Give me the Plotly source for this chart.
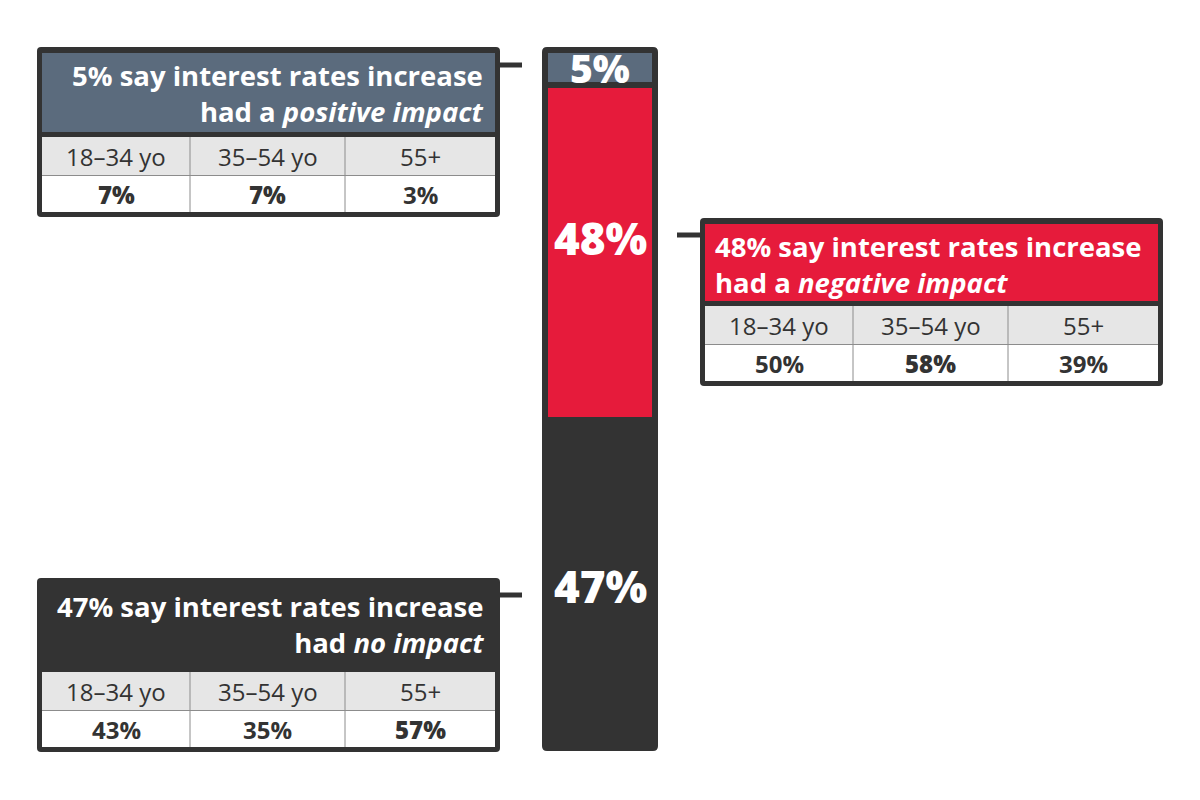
import plotly.graph_objects as go

# ---------------- data ----------------
segments = ["Positive impact", "Negative impact", "No impact"]
shares = [5, 48, 47]
age_groups = ["18–34 yo", "35–54 yo", "55+"]
positive_by_age = [7, 7, 3]
negative_by_age = [50, 58, 39]
none_by_age = [43, 35, 57]
headline_prefix = ["had a ", "had a ", "had "]
impact_words = ["positive impact", "negative impact", "no impact"]

# ---------------- styles ----------------
SLATE = "#5b6b7d"
RED = "#e61b3b"
DARK = "#333333"
GRAY = "#e6e6e6"
LINE = "#8c8c8c"
FONT = "Open Sans"
seg_colors = [SLATE, RED, DARK]
by_age = [positive_by_age, negative_by_age, none_by_age]

fig = go.Figure()

# stacked single bar
for i, seg in enumerate(segments):
    fig.add_trace(go.Bar(
        x=["share"], y=[shares[i]], name=seg,
        marker=dict(color=seg_colors[i], line=dict(color=DARK, width=6)),
        xaxis="x2", yaxis="y2", hoverinfo="skip", showlegend=False,
    ))

shapes = []
annotations = []


def rrect(x0, y0, x1, y1, r):
    return (f"M{x0+r},{y0} L{x1-r},{y0} Q{x1},{y0} {x1},{y0+r} L{x1},{y1-r} "
            f"Q{x1},{y1} {x1-r},{y1} L{x0+r},{y1} Q{x0},{y1} {x0},{y1-r} "
            f"L{x0},{y0+r} Q{x0},{y0} {x0+r},{y0} Z")


# bar frame
shapes.append(dict(type="path", path=rrect(542, 47, 658, 751, 5), xref="x", yref="y",
                   fillcolor=DARK, line=dict(width=0), layer="below"))

# bar labels
label_sizes = [39, 44, 44]
label_shift = [0, 14, -2]
cum = 0
for i, v in enumerate(shares):
    annotations.append(dict(
        x=0, y=cum + v / 2, xref="x2", yref="y2", text=f"{v}%", showarrow=False,
        yshift=label_shift[i],
        font=dict(family=FONT, size=label_sizes[i], color="white", weight=800),
        xanchor="center", yanchor="middle"))
    cum += v

# callout boxes
boxes = [
    dict(x0=37, x1=500, y0=47, header_h=79, align="right", tx=486, cy=65, cx0=500, cx1=522),
    dict(x0=700, x1=1163, y0=218, header_h=77, align="left", tx=713, cy=235, cx0=677, cx1=700),
    dict(x0=37, x1=500, y0=578, header_h=83, align="right", tx=486, cy=595, cx0=500, cx1=522),
]
col_offsets = [0, 148, 303]

for i, b in enumerate(boxes):
    x0, x1, y0 = b["x0"], b["x1"], b["y0"]
    il, ir = x0 + 5, x1 - 5
    h_top = y0 + 6
    h_bot = h_top + b["header_h"]
    g_top = h_bot + 5
    g_bot = g_top + 38
    w_top = g_bot + 1
    w_bot = w_top + 36
    y1 = w_bot + 5
    # connector
    shapes.append(dict(type="line", x0=b["cx0"], x1=b["cx1"], y0=b["cy"], y1=b["cy"],
                       xref="x", yref="y", line=dict(color=DARK, width=5), layer="below"))
    # outer frame
    shapes.append(dict(type="path", path=rrect(x0, y0, x1, y1, 4), xref="x", yref="y",
                       fillcolor=DARK, line=dict(width=0), layer="below"))
    # header
    shapes.append(dict(type="rect", x0=il, x1=ir, y0=h_top, y1=h_bot, xref="x", yref="y",
                       fillcolor=seg_colors[i], line=dict(width=0), layer="below"))
    # gray row
    shapes.append(dict(type="rect", x0=il, x1=ir, y0=g_top, y1=g_bot, xref="x", yref="y",
                       fillcolor=GRAY, line=dict(width=0), layer="below"))
    # white row
    shapes.append(dict(type="rect", x0=il, x1=ir, y0=w_top - 1, y1=w_bot, xref="x", yref="y",
                       fillcolor="white", line=dict(width=0), layer="below"))
    shapes.append(dict(type="line", x0=il, x1=ir, y0=g_bot + 0.5, y1=g_bot + 0.5, xref="x", yref="y",
                       line=dict(color=LINE, width=1), layer="below"))
    col_edges = [il + o for o in col_offsets] + [ir]
    for ce in col_edges[1:-1]:
        shapes.append(dict(type="line", x0=ce, x1=ce, y0=g_top, y1=w_bot, xref="x", yref="y",
                           line=dict(color=LINE, width=1), layer="below"))
    # headline (two lines)
    xa = "right" if b["align"] == "right" else "left"
    annotations.append(dict(
        x=b["tx"], y=y0 + 46, xref="x", yref="y", showarrow=False, xanchor=xa, yanchor="middle",
        align=b["align"],
        text=(f"{shares[i]}% say interest rates increase<br>"
              f"{headline_prefix[i]}<i>{impact_words[i]}</i>"),
        font=dict(family=FONT, size=27.5, color="white", weight=700)))
    # table
    vals = by_age[i]
    vmax = max(vals)
    for c in range(3):
        cx = (col_edges[c] + col_edges[c + 1]) / 2
        annotations.append(dict(
            x=cx, y=(g_top + g_bot) / 2, xref="x", yref="y", showarrow=False,
            text=age_groups[c], xanchor="center", yanchor="middle",
            font=dict(family=FONT, size=24, color=DARK, weight=400)))
        annotations.append(dict(
            x=cx, y=(w_top + w_bot) / 2, xref="x", yref="y", showarrow=False,
            text=f"{vals[c]}%", xanchor="center", yanchor="middle",
            font=dict(family=FONT, size=24, color=DARK, weight=800 if vals[c] == vmax else 700)))

fig.update_layout(
    width=1200, height=800,
    margin=dict(l=0, r=0, t=0, b=0),
    paper_bgcolor="white", plot_bgcolor="rgba(0,0,0,0)",
    barmode="stack", bargap=0,
    xaxis=dict(range=[0, 1200], domain=[0, 1], visible=False, fixedrange=True),
    yaxis=dict(range=[800, 0], domain=[0, 1], visible=False, fixedrange=True),
    xaxis2=dict(domain=[545 / 1200, 655 / 1200], range=[-0.5, 0.5], type="category",
                visible=False, anchor="y2"),
    yaxis2=dict(domain=[1 - 748 / 800, 1 - 50 / 800], range=[100, 0], visible=False, anchor="x2"),
    shapes=shapes,
    annotations=annotations,
)

fig.write_html("out.html")
